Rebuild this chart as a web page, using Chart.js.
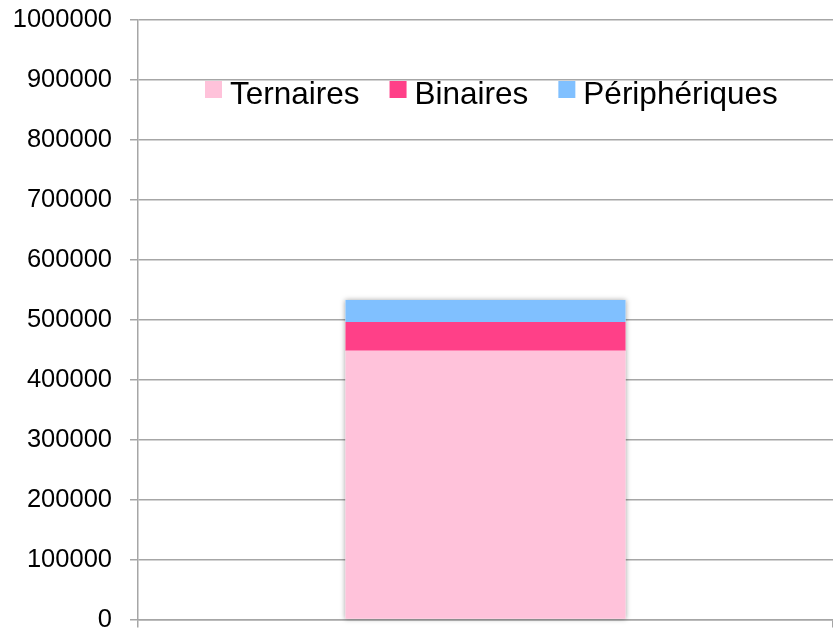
<!DOCTYPE html>
<html>
<head>
<meta charset="utf-8">
<script src="https://cdn.jsdelivr.net/npm/chart.js@4"></script>
<style>
  html, body { margin: 0; padding: 0; background: #fff; }
  #wrap { width: 833px; height: 630px; }
</style>
</head>
<body>
<div id="wrap"><canvas id="chart"></canvas></div>
<script>
const categories = [""];
const ternaires = [448000];
const binaires = [48000];
const peripheriques = [36500];
const seriesLabels = ["Ternaires", "Binaires", "Périphériques"];
const seriesColors = ["#FFC2DA", "#FF4088", "#80C0FF"];

const gridColor = "#a6a6a6";

// legend drawn inside the plot area, like the original
const innerLegend = {
  id: "innerLegend",
  afterDraw(chart) {
    const ctx = chart.ctx;
    ctx.save();
    ctx.font = "31.5px 'Liberation Sans', Arial, sans-serif";
    ctx.textBaseline = "alphabetic";
    let x = 205;
    chart.data.datasets.forEach((ds) => {
      ctx.fillStyle = ds.backgroundColor;
      ctx.fillRect(x, 81, 17, 17);
      ctx.fillStyle = "#000";
      ctx.fillText(ds.label, x + 25, 103.5);
      x += 25 + ctx.measureText(ds.label).width + 30;
    });
    ctx.restore();
  }
};

// soft shadow around the whole stack
const stackShadow = {
  id: "stackShadow",
  beforeDatasetsDraw(chart) {
    const first = chart.getDatasetMeta(0).data[0];
    const last = chart.getDatasetMeta(chart.data.datasets.length - 1).data[0];
    if (!first || !last) return;
    const ctx = chart.ctx;
    ctx.save();
    ctx.shadowColor = "rgba(0,0,0,0.35)";
    ctx.shadowBlur = 5;
    ctx.fillStyle = "#fff";
    ctx.fillRect(first.x - first.width / 2, last.y, first.width, first.base - last.y);
    ctx.restore();
  }
};

new Chart(document.getElementById("chart"), {
  type: "bar",
  data: {
    labels: categories,
    datasets: [
      { label: seriesLabels[0], data: ternaires, backgroundColor: seriesColors[0] },
      { label: seriesLabels[1], data: binaires, backgroundColor: seriesColors[1] },
      { label: seriesLabels[2], data: peripheriques, backgroundColor: seriesColors[2] }
    ]
  },
  options: {
    responsive: true,
    maintainAspectRatio: false,
    animation: false,
    layout: { padding: { top: 19.5, right: 0, left: 0, bottom: 0 } },
    datasets: { bar: { categoryPercentage: 1, barPercentage: 0.403 } },
    plugins: {
      legend: { display: false },
      tooltip: { enabled: false }
    },
    scales: {
      x: {
        stacked: true,
        grid: { drawOnChartArea: false, color: gridColor, lineWidth: 1.5, tickLength: 8 },
        border: { color: gridColor, width: 1.5 },
        ticks: { display: true, font: { size: 1 } },
        afterFit: (scale) => { scale.height = 10.5; scale.paddingLeft = 0; scale.paddingRight = 0; }
      },
      y: {
        stacked: true,
        min: 0,
        max: 1000000,
        grid: { color: gridColor, lineWidth: 1.5, tickLength: 8 },
        border: { color: gridColor, width: 1.5 },
        ticks: {
          stepSize: 100000,
          padding: 18,
          color: "#000",
          font: { family: "'Liberation Sans', Arial, sans-serif", size: 25.5 },
          callback: (v) => String(v)
        },
        afterFit: (scale) => {
          scale.width = 138;
          scale.paddingTop = 0;
          scale.paddingBottom = 0;
        }
      }
    }
  },
  plugins: [stackShadow, innerLegend]
});
</script>
</body>
</html>
